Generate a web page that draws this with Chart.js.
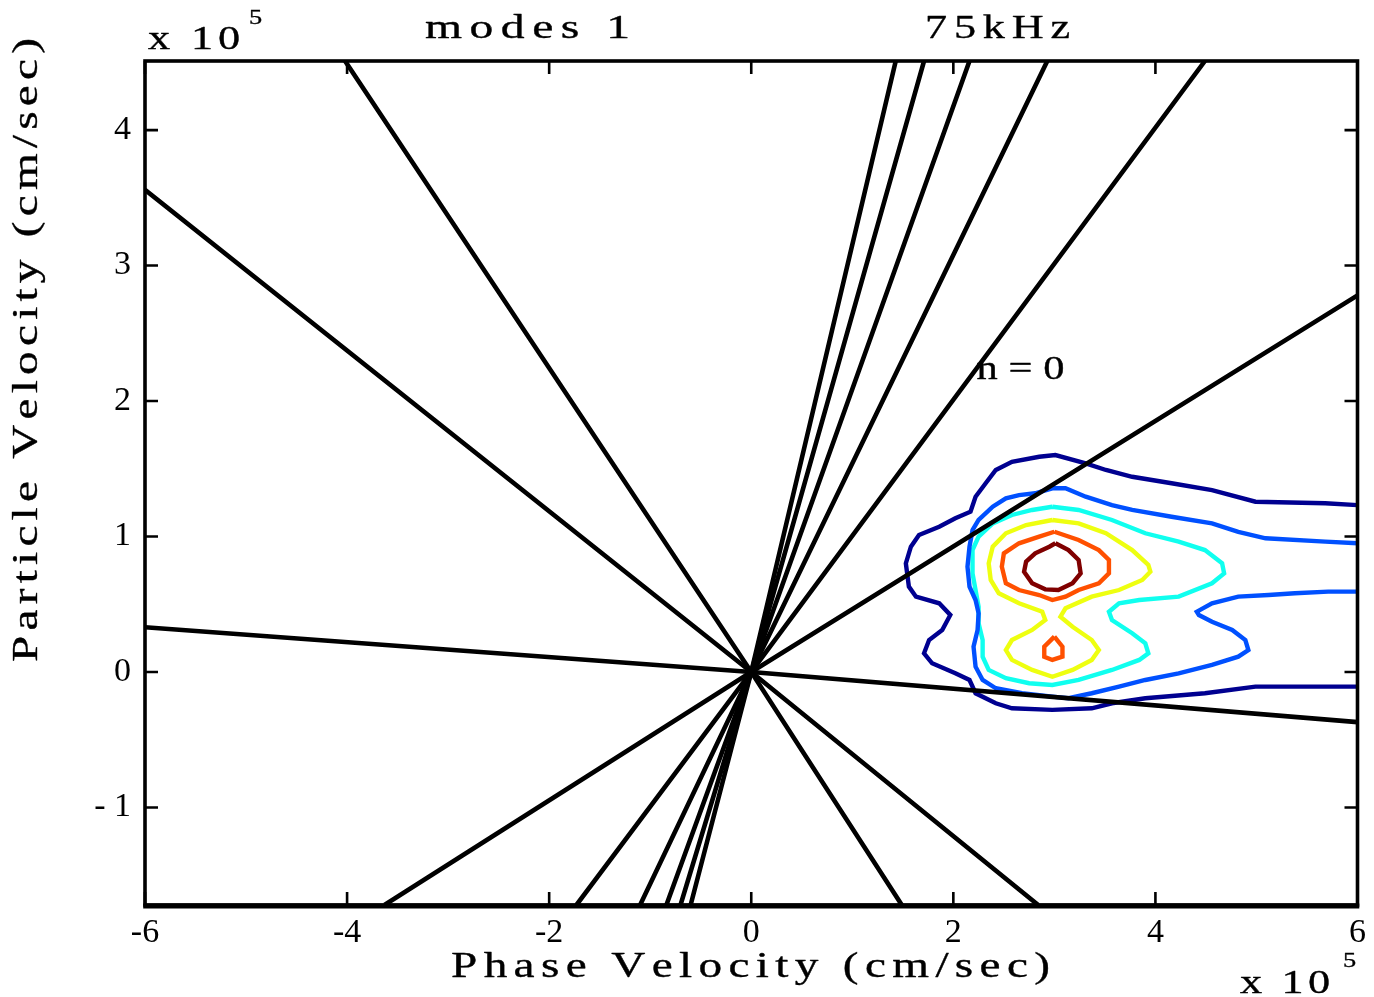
<!DOCTYPE html>
<html>
<head>
<meta charset="utf-8">
<script src="https://cdn.jsdelivr.net/npm/chart.js@4/dist/chart.umd.min.js"></script>
<style>
  html, body { margin: 0; padding: 0; background: #ffffff; }
  #wrap { width: 1374px; height: 997px; position: relative; }
</style>
</head>
<body>
<div id="wrap"><canvas id="c"></canvas></div>
<script>
// Axis ranges and tick labels (units of 10^5 cm/sec)
const xRange = [-6, 6];
const yRange = [-1.72, 4.51];
const xTicks = [-6, -4, -2, 0, 2, 4, 6];
const yTicks = [-1, 0, 1, 2, 3, 4];

// Resonance lines: each runs from an upper end, through the origin, to a lower end
const rayOrigin = [0, 0];
const rayUpperEnds = [
  [1.43, 4.51], [1.71, 4.51], [2.16, 4.51], [2.93, 4.51], [4.49, 4.51],
  [6.0, 2.78], [6.0, -0.37], [-6.0, 3.56], [-4.02, 4.51]
];
const rayLowerEnds = [
  [-0.60, -1.72], [-0.70, -1.72], [-0.84, -1.72], [-1.10, -1.72], [-1.73, -1.72],
  [-3.63, -1.72], [-6.0, 0.33], [2.84, -1.72], [1.49, -1.72]
];

// Contour levels, outermost first: [phase velocity, particle velocity]
const contourLevel1 = [
  [6.0, 1.232], [5.68, 1.245], [4.99, 1.257], [4.56, 1.343], [4.16, 1.393], [3.77, 1.441],
  [3.51, 1.491], [3.31, 1.540], [3.01, 1.601], [2.85, 1.589], [2.58, 1.552], [2.42, 1.491],
  [2.32, 1.393], [2.22, 1.294], [2.17, 1.183], [2.02, 1.134], [1.86, 1.072], [1.66, 1.011],
  [1.58, 0.925], [1.53, 0.802], [1.56, 0.630], [1.63, 0.556], [1.86, 0.507], [1.97, 0.421],
  [1.89, 0.310], [1.76, 0.236], [1.71, 0.138], [1.79, 0.064], [2.02, -0.010], [2.16, -0.059],
  [2.22, -0.157], [2.42, -0.231], [2.58, -0.268], [2.98, -0.280], [3.37, -0.268], [3.57, -0.231],
  [3.90, -0.194], [4.49, -0.157], [4.99, -0.108], [6.0, -0.108]
];
const contourLevel2 = [
  [6.0, 0.950], [5.68, 0.962], [5.09, 0.987], [4.82, 1.035], [4.56, 1.097], [4.16, 1.146],
  [3.77, 1.196], [3.57, 1.232], [3.31, 1.294], [3.11, 1.356], [2.98, 1.356], [2.81, 1.319],
  [2.65, 1.306], [2.52, 1.282], [2.39, 1.220], [2.25, 1.122], [2.19, 1.048], [2.16, 0.925],
  [2.14, 0.777], [2.16, 0.630], [2.22, 0.531], [2.25, 0.433], [2.24, 0.310], [2.20, 0.187],
  [2.22, 0.039], [2.29, -0.059], [2.42, -0.120], [2.68, -0.157], [2.98, -0.182], [3.14, -0.194],
  [3.37, -0.157], [3.64, -0.108], [3.90, -0.059], [4.23, -0.010], [4.56, 0.052], [4.82, 0.113],
  [4.92, 0.162], [4.89, 0.236], [4.76, 0.310], [4.56, 0.371], [4.43, 0.421], [4.41, 0.445],
  [4.56, 0.507], [4.82, 0.556], [5.12, 0.568], [5.38, 0.581], [5.71, 0.593], [6.0, 0.593]
];
const contourLevel3 = [
  [2.98, 1.220], [3.24, 1.196], [3.57, 1.122], [3.90, 1.024], [4.23, 0.962], [4.49, 0.900],
  [4.66, 0.802], [4.68, 0.728], [4.56, 0.655], [4.23, 0.556], [3.84, 0.531], [3.64, 0.507],
  [3.54, 0.445], [3.57, 0.384], [3.77, 0.286], [3.90, 0.212], [3.93, 0.138], [3.84, 0.089],
  [3.57, 0.015], [3.24, -0.059], [2.98, -0.096], [2.75, -0.083], [2.52, -0.046], [2.35, 0.015],
  [2.29, 0.113], [2.29, 0.236], [2.25, 0.359], [2.25, 0.482], [2.22, 0.605], [2.19, 0.728],
  [2.19, 0.900], [2.25, 0.999], [2.39, 1.097], [2.58, 1.159], [2.78, 1.196], [2.98, 1.220]
];
const contourLevel4 = [
  [2.98, 1.122], [3.24, 1.097], [3.51, 1.024], [3.77, 0.900], [3.93, 0.790], [3.95, 0.740],
  [3.87, 0.679], [3.64, 0.605], [3.37, 0.556], [3.11, 0.470], [3.06, 0.408], [3.18, 0.334],
  [3.37, 0.236], [3.44, 0.162], [3.37, 0.089], [3.18, 0.015], [2.98, -0.035], [2.78, 0.015],
  [2.58, 0.089], [2.52, 0.162], [2.58, 0.236], [2.78, 0.310], [2.91, 0.384], [2.88, 0.445],
  [2.65, 0.507], [2.45, 0.581], [2.37, 0.679], [2.35, 0.802], [2.39, 0.925], [2.52, 1.024],
  [2.72, 1.085], [2.98, 1.122]
];
const contourLevel5Upper = [
  [3.00, 1.035], [3.24, 0.974], [3.44, 0.900], [3.54, 0.827], [3.54, 0.728], [3.44, 0.655],
  [3.24, 0.605], [3.11, 0.556], [2.98, 0.531], [2.85, 0.568], [2.65, 0.605], [2.52, 0.655],
  [2.48, 0.777], [2.50, 0.876], [2.65, 0.950], [2.85, 0.999], [3.00, 1.035]
];
const contourLevel5Lower = [
  [3.00, 0.261], [3.08, 0.187], [3.08, 0.113], [2.98, 0.089], [2.90, 0.113], [2.90, 0.187], [3.00, 0.261]
];
const contourLevel6 = [
  [3.01, 0.950], [3.14, 0.900], [3.24, 0.827], [3.26, 0.728], [3.18, 0.655], [3.04, 0.605],
  [2.91, 0.610], [2.78, 0.655], [2.70, 0.740], [2.72, 0.814], [2.81, 0.876], [2.95, 0.925], [3.01, 0.950]
];

const levelColors = ['#000090', '#0050ff', '#10ffef', '#eeff10', '#ff5000', '#ff5000', '#800000'];
const contours = [contourLevel1, contourLevel2, contourLevel3, contourLevel4,
                  contourLevel5Upper, contourLevel5Lower, contourLevel6];

const toPoints = arr => arr.map(p => ({ x: p[0], y: p[1] }));

const datasets = [];
rayUpperEnds.forEach((up, i) => {
  const lo = rayLowerEnds[i];
  datasets.push({
    data: toPoints([up, rayOrigin, lo]),
    borderColor: '#000000', borderWidth: 4.6, pointRadius: 0, tension: 0, order: 0,
    borderCapStyle: 'butt', borderJoinStyle: 'round'
  });
});
contours.forEach((c, i) => {
  datasets.push({
    data: toPoints(c),
    borderColor: levelColors[i], borderWidth: 4.4, pointRadius: 0, tension: 0, order: 1,
    borderJoinStyle: 'miter'
  });
});

const SERIF = "'Liberation Serif', 'DejaVu Serif', serif";

// Draw a string spread between two positions along a baseline, glyphs widened by sx
function drawSpread(ctx, text, start, end, size, sx) {
  ctx.font = size + 'px ' + SERIF;
  ctx.textBaseline = 'middle';
  ctx.textAlign = 'left';
  ctx.fillStyle = '#000000';
  ctx.strokeStyle = '#000000';
  ctx.lineWidth = 0.35;
  ctx.lineJoin = 'round';
  const chars = [...text];
  const ws = chars.map(ch => ctx.measureText(ch).width * sx);
  const total = ws.reduce((a, b) => a + b, 0);
  const gap = chars.length > 1 ? (end - start - total) / (chars.length - 1) : 0;
  let x = start;
  chars.forEach((ch, i) => {
    ctx.save();
    ctx.translate(x, 0);
    ctx.scale(sx, 1);
    ctx.fillText(ch, 0, 0);
    ctx.strokeText(ch, 0, 0);
    ctx.restore();
    x += ws[i] + gap;
  });
}

function textAt(ctx, text, x0, x1, yc, size, sx) {
  ctx.save();
  ctx.translate(0, yc);
  drawSpread(ctx, text, x0, x1, size, sx);
  ctx.restore();
}

const framePlugin = {
  id: 'frame',
  afterDatasetsDraw(chart) {
    const { ctx, chartArea: a, scales } = chart;
    const tick = 13;
    ctx.save();
    ctx.strokeStyle = '#000000';
    ctx.lineWidth = 2.6;
    ctx.beginPath();
    xTicks.forEach(v => {
      const px = scales.x.getPixelForValue(v);
      ctx.moveTo(px, a.bottom); ctx.lineTo(px, a.bottom - tick);
      ctx.moveTo(px, a.top); ctx.lineTo(px, a.top + tick);
    });
    yTicks.forEach(v => {
      const py = scales.y.getPixelForValue(v);
      ctx.moveTo(a.left, py); ctx.lineTo(a.left + tick, py);
      ctx.moveTo(a.right, py); ctx.lineTo(a.right - tick, py);
    });
    ctx.stroke();
    ctx.lineWidth = 3.6;
    ctx.strokeRect(a.left, a.top, a.right - a.left, a.bottom - a.top);
    // heavier baseline along the bottom edge
    ctx.lineWidth = 5;
    ctx.beginPath();
    ctx.moveTo(a.left - 1.8, a.bottom + 1);
    ctx.lineTo(a.right + 1.8, a.bottom + 1);
    ctx.stroke();
    ctx.restore();
  }
};

const labelPlugin = {
  id: 'labels',
  beforeDatasetsDraw(chart) {
    const { ctx, scales } = chart;
    // harmonic label next to the n = 0 resonance line
    const x0 = scales.x.getPixelForValue(2.25);
    const yc = scales.y.getPixelForValue(2.23);
    textAt(ctx, 'n=0', x0 - 2, x0 + 86, yc, 34, 1.25);
  },
  afterDraw(chart) {
    const { ctx } = chart;
    // header
    textAt(ctx, 'x 10', 148, 240, 40, 34, 1.3);
    textAt(ctx, '5', 249, 262, 18, 22, 1.2);
    textAt(ctx, 'modes 1', 425, 630, 29, 34, 1.4);
    textAt(ctx, '75kHz', 925, 1070, 29, 34, 1.3);
    // x-axis title and multiplier
    textAt(ctx, 'Phase Velocity (cm/sec)', 451, 1050, 968, 35, 1.35);
    textAt(ctx, 'x 10', 1240, 1330, 984, 34, 1.3);
    textAt(ctx, '5', 1343, 1356, 961, 22, 1.2);
    // y-axis title, rotated
    ctx.save();
    ctx.translate(28, 662);
    ctx.rotate(-Math.PI / 2);
    drawSpread(ctx, 'Particle Velocity (cm/sec)', 0, 624, 35, 1.35);
    ctx.restore();
  }
};

new Chart(document.getElementById('c'), {
  type: 'line',
  data: { datasets },
  options: {
    responsive: true,
    maintainAspectRatio: false,
    animation: false,
    events: [],
    layout: { padding: { top: 61, right: 15, left: 0, bottom: 0 } },
    plugins: { legend: { display: false }, tooltip: { enabled: false }, title: { display: false } },
    scales: {
      x: {
        type: 'linear', min: xRange[0], max: xRange[1],
        grid: { display: false, drawTicks: false },
        border: { display: false },
        afterBuildTicks: s => { s.ticks = xTicks.map(v => ({ value: v })); },
        afterFit: s => { s.height = 92; },
        ticks: { color: '#000000', padding: 8, maxRotation: 0, autoSkip: false,
                 font: { family: SERIF, size: 34 } }
      },
      y: {
        type: 'linear', min: yRange[0], max: yRange[1],
        grid: { display: false, drawTicks: false },
        border: { display: false },
        afterBuildTicks: s => { s.ticks = yTicks.map(v => ({ value: v })); },
        afterFit: s => { s.width = 145; },
        ticks: { color: '#000000', padding: 14, autoSkip: false,
                 font: { family: SERIF, size: 34 },
                 callback: v => (v < 0 ? '- ' + Math.abs(v) : String(v)) }
      }
    }
  },
  plugins: [framePlugin, labelPlugin]
});
</script>
</body>
</html>
